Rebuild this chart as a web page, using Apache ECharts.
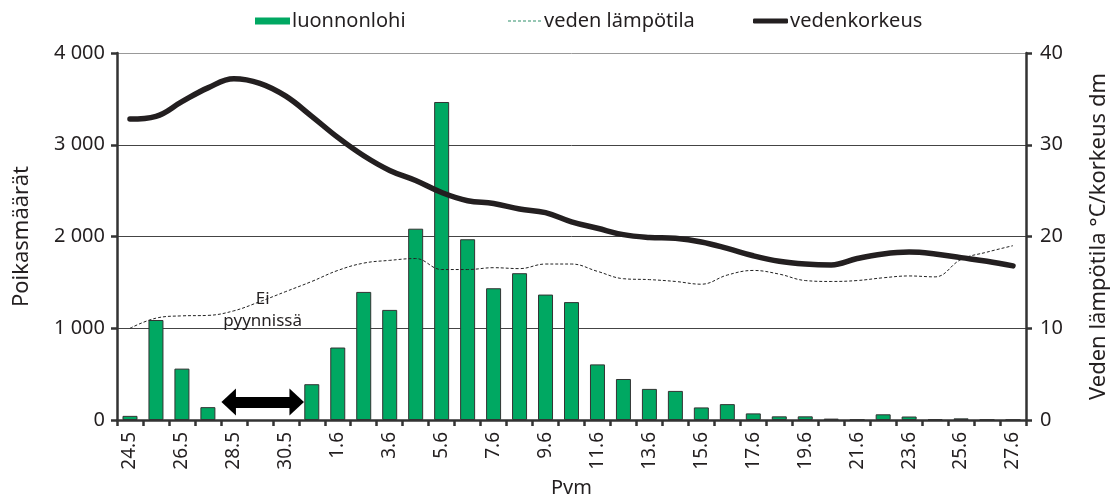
<!DOCTYPE html>
<html>
<head>
<meta charset="utf-8">
<script src="https://cdn.jsdelivr.net/npm/echarts@6/dist/echarts.min.js"></script>
<style>
  html, body { margin: 0; padding: 0; background: #fff; }
  #chart { width: 1120px; height: 503px; }
</style>
</head>
<body>
<div id="chart"></div>
<script>
  // päivämäärät 24.5 - 27.6
  let categories = [
    '24.5', '25.5', '26.5', '27.5', '28.5', '29.5', '30.5', '31.5',
    '1.6', '2.6', '3.6', '4.6', '5.6', '6.6', '7.6', '8.6', '9.6', '10.6',
    '11.6', '12.6', '13.6', '14.6', '15.6', '16.6', '17.6', '18.6', '19.6', '20.6',
    '21.6', '22.6', '23.6', '24.6', '25.6', '26.6', '27.6'
  ];

  // luonnonlohi poikaset (ei pyynnissä 28.5-30.5)
  let salmon = [
    45, 1090, 560, 140, null, null, null, 390,
    790, 1396, 1200, 2085, 3466, 1970, 1436, 1600, 1367, 1285,
    606, 447, 339, 317, 137, 173, 72, 40, 40, 15,
    5, 62, 38, 10, 18, 5, 3
  ];

  // veden lämpötila °C
  let waterTemp = [
    10.0, 11.1, 11.35, 11.4, 11.9, 12.9, 14.0, 15.1,
    16.3, 17.1, 17.4, 17.6, 16.4, 16.4, 16.6, 16.5, 17.0, 17.0,
    16.2, 15.4, 15.3, 15.1, 14.8, 15.8, 16.3, 15.9, 15.2, 15.1,
    15.2, 15.5, 15.7, 15.6, 17.5, 18.3, 19.0
  ];

  // vedenkorkeus dm
  let waterLevel = [
    32.8, 33.1, 34.7, 36.2, 37.2, 36.7, 35.3, 33.1,
    30.8, 28.8, 27.2, 26.1, 24.8, 23.9, 23.6, 23.0, 22.6, 21.6,
    20.9, 20.2, 19.9, 19.8, 19.4, 18.7, 17.9, 17.3, 17.0, 16.9,
    17.6, 18.1, 18.3, 18.1, 17.7, 17.3, 16.8
  ];

  let leftTicks = [0, 1000, 2000, 3000, 4000];
  let rightTicks = [0, 10, 20, 30, 40];

  // "Ei pyynnissä" -nuoli, päiväyksikköinä akselin alusta
  let gapFrom = 4.3;
  let gapTo = 6.92;
  let gapLevel = 195;

  let txt = '#231f20';
  let axisColor = '#333333';
  let font = 'Noto Sans';

  let legendBase = {
    top: 6,
    itemWidth: 35,
    itemHeight: 7,
    itemGap: 4,
    textStyle: { fontFamily: font, fontSize: 20, color: txt, padding: [0, 0, 0, -3] }
  };

  // katkoviiva legendaan
  let dashIcon = 'path://M0,0h3v1h-3zM5,0h3v1h-3zM10,0h3v1h-3zM15,0h3v1h-3zM20,0h3v1h-3zM25,0h3v1h-3zM30,0h3v1h-3z';

  let chart = echarts.init(document.getElementById('chart'));

  let options = {
    backgroundColor: '#ffffff',
    animation: false,
    textStyle: { fontFamily: font },
    legend: [
      Object.assign({}, legendBase, {
        left: 250,
        data: [{ name: 'luonnonlohi', icon: 'rect', itemStyle: { borderWidth: 0 } }]
      }),
      Object.assign({}, legendBase, {
        left: 503,
        itemHeight: 1,
        data: [{ name: 'veden lämpötila', icon: dashIcon, itemStyle: { color: '#2f8f6a' } }]
      }),
      Object.assign({}, legendBase, {
        left: 748,
        itemHeight: 5,
        data: [{ name: 'vedenkorkeus', icon: 'roundRect' }]
      })
    ],
    grid: {
      left: 117,
      right: 94,
      top: 53,
      bottom: 80
    },
    xAxis: [{
      type: 'category',
      data: categories,
      boundaryGap: true,
      name: 'Pvm',
      nameLocation: 'middle',
      nameGap: 58,
      nameTextStyle: { fontFamily: font, fontSize: 20, color: txt },
      axisLine: { show: true, lineStyle: { color: axisColor, width: 2.5 } },
      axisTick: { show: true, interval: 0, length: 6, lineStyle: { color: axisColor, width: 2.5 } },
      axisLabel: {
        interval: 1,
        rotate: 90,
        margin: 12,
        fontFamily: font,
        fontSize: 19,
        color: txt
      },
      splitLine: { show: false }
    }, {
      // apuakseli nuolta varten
      type: 'value',
      min: 0,
      max: categories.length,
      show: false
    }],
    yAxis: [{
      type: 'value',
      min: 0,
      max: leftTicks[leftTicks.length - 1],
      interval: 1000,
      name: 'Poikasmäärät',
      nameLocation: 'middle',
      nameRotate: 90,
      nameGap: 84,
      nameTextStyle: { fontFamily: font, fontSize: 22, color: txt },
      axisLine: { show: true, lineStyle: { color: axisColor, width: 2.5 } },
      axisTick: { show: true, length: 6, lineStyle: { color: axisColor, width: 2.5 } },
      axisLabel: {
        margin: 12,
        fontFamily: font,
        fontSize: 20,
        color: txt,
        formatter: function (v) {
          return leftTicks.indexOf(v) >= 0 ? String(v).replace(/\B(?=(\d{3})+(?!\d))/g, ' ') : '';
        }
      },
      splitLine: {
        show: true,
        lineStyle: { color: ['#444', '#444', '#444', '#444', '#999'], width: 1 }
      }
    }, {
      type: 'value',
      min: 0,
      max: rightTicks[rightTicks.length - 1],
      interval: 10,
      position: 'right',
      name: 'Veden lämpötila °C/korkeus dm',
      nameLocation: 'middle',
      nameRotate: 90,
      nameGap: 62,
      nameTextStyle: { fontFamily: font, fontSize: 22, color: txt },
      axisLine: { show: true, lineStyle: { color: axisColor, width: 2.5 } },
      axisTick: { show: true, length: 6, lineStyle: { color: axisColor, width: 2.5 } },
      axisLabel: { margin: 14, fontFamily: font, fontSize: 20, color: txt },
      splitLine: { show: false }
    }],
    series: [{
      name: 'luonnonlohi',
      type: 'bar',
      data: salmon,
      barWidth: 15,
      itemStyle: { color: '#00a862', borderColor: '#333', borderWidth: 1 },
      z: 2
    }, {
      name: 'veden lämpötila',
      type: 'line',
      yAxisIndex: 1,
      data: waterTemp,
      smooth: 0.4,
      symbol: 'none',
      lineStyle: { color: '#222', width: 1, type: [3, 2] },
      itemStyle: { color: '#222' },
      z: 3
    }, {
      name: 'vedenkorkeus',
      type: 'line',
      yAxisIndex: 1,
      data: waterLevel,
      smooth: 0.4,
      symbol: 'none',
      lineStyle: { color: '#231f20', width: 5.5, cap: 'round' },
      itemStyle: { color: '#231f20' },
      z: 4
    }, {
      name: 'ei pyynnissä',
      type: 'scatter',
      xAxisIndex: 1,
      yAxisIndex: 0,
      data: [],
      silent: true,
      markLine: {
        silent: true,
        symbol: ['path://M0,0L13,14L-13,14Z', 'path://M0,0L13,14L-13,14Z'],
        symbolSize: 27,
        symbolKeepAspect: true,
        itemStyle: { color: '#000' },
        lineStyle: { color: '#000', width: 11, type: 'solid' },
        label: {
          show: true,
          position: 'insideMiddleTop',
          distance: 70,
          formatter: 'Ei\npyynnissä',
          fontFamily: font,
          fontSize: 17,
          lineHeight: 22,
          color: txt,
          align: 'center'
        },
        data: [[
          { coord: [gapFrom, gapLevel] },
          { coord: [gapTo, gapLevel] }
        ]]
      }
    }]
  };

  chart.setOption(options);
</script>
</body>
</html>
